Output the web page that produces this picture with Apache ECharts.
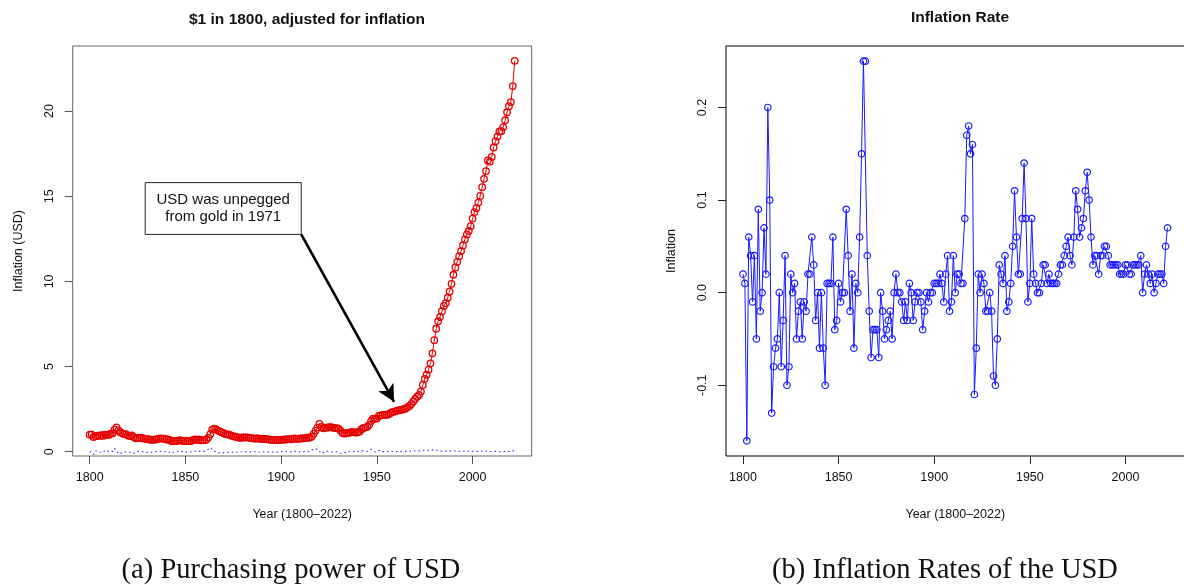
<!DOCTYPE html>
<html>
<head>
<meta charset="utf-8">
<title>USD inflation</title>
<script src="https://cdn.jsdelivr.net/npm/echarts@6/dist/echarts.min.js"></script>
<style>
  html, body { margin: 0; padding: 0; background: #fff; }
  #chart { width: 1184px; height: 585px; }
</style>
</head>
<body>
<div id="chart"></div>
<script>
// years on the x axis
const years = [];
for (let y = 1800; y <= 2022; y++) years.push(y);

// yearly inflation rate
const inflationRate = [
  0.02, 0.01, -0.16, 0.06, 0.04, -0.01, 0.04, -0.05, 0.09, -0.02,
  0.00, 0.07, 0.02, 0.20, 0.10, -0.13, -0.08, -0.06, -0.05, 0.00,
  -0.08, -0.03, 0.04, -0.10, -0.08, 0.02, 0.00, 0.01, -0.05, -0.02,
  -0.01, -0.05, -0.01, -0.02, 0.02, 0.02, 0.06, 0.03, -0.03, 0.00,
  -0.06, 0.00, -0.06, -0.10, 0.01, 0.01, 0.01, 0.06, -0.04, -0.03,
  0.01, -0.01, 0.00, 0.00, 0.09, 0.04, -0.02, 0.02, -0.06, 0.01,
  0.00, 0.06, 0.15, 0.25, 0.25, 0.04, -0.02, -0.07, -0.04, -0.04,
  -0.04, -0.07, 0.00, -0.02, -0.05, -0.04, -0.03, -0.02, -0.05, 0.00,
  0.02, 0.00, 0.00, -0.01, -0.03, -0.01, -0.03, 0.01, 0.00, -0.03,
  -0.01, 0.00, 0.00, -0.01, -0.04, -0.02, 0.00, -0.01, 0.00, 0.00,
  0.01, 0.01, 0.01, 0.02, 0.01, -0.01, 0.02, 0.04, -0.02, -0.01,
  0.04, 0.00, 0.02, 0.02, 0.01, 0.01, 0.08, 0.17, 0.18, 0.15,
  0.16, -0.11, -0.06, 0.02, 0.00, 0.02, 0.01, -0.02, -0.02, 0.00,
  -0.02, -0.09, -0.10, -0.05, 0.03, 0.02, 0.01, 0.04, -0.02, -0.01,
  0.01, 0.05, 0.11, 0.06, 0.02, 0.02, 0.08, 0.14, 0.08, -0.01,
  0.01, 0.08, 0.02, 0.01, 0.00, 0.00, 0.01, 0.03, 0.03, 0.01,
  0.02, 0.01, 0.01, 0.01, 0.01, 0.02, 0.03, 0.03, 0.04, 0.05,
  0.06, 0.04, 0.03, 0.06, 0.11, 0.09, 0.06, 0.07, 0.08, 0.11,
  0.13, 0.10, 0.06, 0.03, 0.04, 0.04, 0.02, 0.04, 0.04, 0.05,
  0.05, 0.04, 0.03, 0.03, 0.03, 0.03, 0.03, 0.02, 0.02, 0.02,
  0.03, 0.03, 0.02, 0.02, 0.03, 0.03, 0.03, 0.03, 0.04, 0.00,
  0.02, 0.03, 0.02, 0.01, 0.02, 0.00, 0.01, 0.02, 0.02, 0.02,
  0.01, 0.05, 0.07
];

// value of $1 from 1800
const usdValue = [
  1.00, 1.01, 0.86, 0.91, 0.95, 0.94, 0.98, 0.93, 1.01, 0.99,
  0.99, 1.06, 1.08, 1.30, 1.43, 1.25, 1.15, 1.08, 1.03, 1.03,
  0.95, 0.92, 0.96, 0.86, 0.79, 0.81, 0.81, 0.82, 0.78, 0.76,
  0.75, 0.72, 0.71, 0.70, 0.71, 0.73, 0.77, 0.79, 0.77, 0.77,
  0.72, 0.72, 0.68, 0.62, 0.63, 0.63, 0.64, 0.68, 0.65, 0.63,
  0.64, 0.63, 0.63, 0.63, 0.69, 0.72, 0.70, 0.72, 0.67, 0.68,
  0.68, 0.72, 0.83, 1.04, 1.30, 1.36, 1.33, 1.24, 1.19, 1.14,
  1.09, 1.02, 1.02, 1.00, 0.95, 0.91, 0.88, 0.86, 0.82, 0.82,
  0.84, 0.84, 0.84, 0.83, 0.80, 0.80, 0.77, 0.78, 0.78, 0.76,
  0.75, 0.75, 0.75, 0.74, 0.71, 0.70, 0.70, 0.69, 0.69, 0.69,
  0.70, 0.71, 0.72, 0.73, 0.74, 0.73, 0.75, 0.78, 0.76, 0.75,
  0.78, 0.78, 0.80, 0.81, 0.82, 0.83, 0.89, 1.05, 1.24, 1.42,
  1.64, 1.46, 1.38, 1.41, 1.41, 1.44, 1.45, 1.42, 1.39, 1.39,
  1.36, 1.24, 1.11, 1.06, 1.09, 1.11, 1.13, 1.17, 1.14, 1.13,
  1.14, 1.19, 1.32, 1.40, 1.43, 1.46, 1.58, 1.81, 1.95, 1.93,
  1.95, 2.10, 2.14, 2.16, 2.17, 2.16, 2.19, 2.26, 2.33, 2.35,
  2.39, 2.42, 2.44, 2.47, 2.50, 2.54, 2.61, 2.69, 2.80, 2.95,
  3.10, 3.23, 3.33, 3.53, 3.92, 4.28, 4.52, 4.82, 5.19, 5.78,
  6.55, 7.22, 7.66, 7.91, 8.25, 8.56, 8.72, 9.04, 9.41, 9.86,
  10.39, 10.82, 11.15, 11.48, 11.78, 12.11, 12.47, 12.76, 12.96, 13.24,
  13.69, 14.07, 14.30, 14.63, 15.02, 15.53, 16.02, 16.48, 17.10, 17.03,
  17.31, 17.86, 18.23, 18.50, 18.80, 18.82, 19.06, 19.46, 19.93, 20.29,
  20.53, 21.47, 22.95
];

// tick labels
const yearTicks = [1800, 1850, 1900, 1950, 2000];
const usdTicks = [0, 5, 10, 15, 20];
const rateTicks = [-0.1, 0.0, 0.1, 0.2];

// annotation (data coordinates of the note box and arrow)
const noteText = 'USD was unpegged\nfrom gold in 1971';
const noteBox = [[1829, 15.8], [1910.5, 12.76]];
const noteArrow = [[1910.5, 12.76], [1959, 2.93]];

const font = 'Liberation Sans, Arial, Helvetica, sans-serif';
const serif = 'Liberation Serif, Times New Roman, serif';

const usdPairs = years.map((y, i) => [y, usdValue[i]]);
const ratePairs = years.map((y, i) => [y, inflationRate[i]]);

function xAxisFor(idx, color) {
    return {
        type: 'value',
        gridIndex: idx,
        min: 1791.12,
        max: 2030.88,
        name: 'Year (1800\u20132022)',
        nameLocation: 'middle',
        nameGap: 52,
        nameTextStyle: { color: '#111', fontSize: 12.5, fontFamily: font },
        axisLine: { show: false, onZero: false },
        axisTick: { show: true, customValues: yearTicks, length: 8, lineStyle: { color: color } },
        axisLabel: { customValues: yearTicks, margin: 15, color: '#111', fontSize: 12.5, fontFamily: font,
                     formatter: v => String(v) },
        splitLine: { show: false }
    }
}

const chart = echarts.init(document.getElementById('chart'), null, { renderer: 'canvas' });

const option = {
    animation: false,
    backgroundColor: '#fff',
    title: [
        { text: '$1 in 1800, adjusted for inflation', left: 302, top: 7, textAlign: 'center',
          textStyle: { fontSize: 15.5, fontWeight: 'bold', color: '#111', fontFamily: font } },
        { text: 'Inflation Rate', left: 955, top: 5, textAlign: 'center',
          textStyle: { fontSize: 15.5, fontWeight: 'bold', color: '#111', fontFamily: font } },
        { text: '(a) Purchasing power of USD', left: 286, top: 551, textAlign: 'center',
          textStyle: { fontSize: 28.5, fontWeight: 'normal', color: '#111', fontFamily: serif } },
        { text: '(b) Inflation Rates of the USD', left: 940, top: 551, textAlign: 'center',
          textStyle: { fontSize: 28.5, fontWeight: 'normal', color: '#111', fontFamily: serif } }
    ],
    grid: [
        { left: 72.7, top: 46, width: 459, height: 410, show: true, borderColor: '#666', borderWidth: 1,
          backgroundColor: 'transparent', outerBoundsMode: 'none' },
        { left: 726, top: 46, width: 458.5, height: 410, show: true, borderColor: '#000', borderWidth: 1,
          backgroundColor: 'transparent', outerBoundsMode: 'none' }
    ],
    xAxis: [xAxisFor(0, '#555'), xAxisFor(1, '#222')],
    yAxis: [
        {
            type: 'value', gridIndex: 0, min: -0.25, max: 23.82,
            name: 'Inflation (USD)', nameLocation: 'middle', nameGap: 48,
            nameTextStyle: { color: '#111', fontSize: 12.5, fontFamily: font },
            axisLine: { show: false, onZero: false },
            axisTick: { show: true, customValues: usdTicks, length: 8, lineStyle: { color: '#555' } },
            axisLabel: { customValues: usdTicks, rotate: 90, margin: 17, color: '#111', fontSize: 12.5, fontFamily: font },
            splitLine: { show: false }
        },
        {
            type: 'value', gridIndex: 1, min: -0.1764, max: 0.2664,
            name: 'Inflation', nameLocation: 'middle', nameGap: 48,
            nameTextStyle: { color: '#111', fontSize: 12.5, fontFamily: font },
            axisLine: { show: false, onZero: false },
            axisTick: { show: true, customValues: rateTicks, length: 8, lineStyle: { color: '#222' } },
            axisLabel: { customValues: rateTicks, rotate: 90, margin: 17, color: '#111', fontSize: 12.5, fontFamily: font,
                         formatter: v => v.toFixed(1) },
            splitLine: { show: false }
        }
    ],
    series: [
        {
            name: 'inflation dotted',
            type: 'line',
            xAxisIndex: 0, yAxisIndex: 0,
            data: ratePairs,
            showSymbol: false,
            silent: true,
            lineStyle: { color: '#3b3bff', width: 1.2, type: [1.5, 3] },
            z: 1
        },
        {
            name: 'usd',
            type: 'line',
            xAxisIndex: 0, yAxisIndex: 0,
            data: usdPairs,
            symbol: 'circle',
            symbolSize: 6.5,
            silent: true,
            lineStyle: { color: '#e60000', width: 1 },
            itemStyle: { color: 'rgba(255,255,255,0)', borderColor: '#e60000', borderWidth: 1.3 },
            z: 2,
            markArea: {
                silent: true,
                itemStyle: { color: '#fff', borderColor: '#222', borderWidth: 1 },
                label: { show: true, position: 'inside', formatter: noteText, color: '#111',
                         fontSize: 15, lineHeight: 17, fontFamily: font },
                data: [[{ coord: noteBox[0] }, { coord: noteBox[1] }]]
            },
            markLine: {
                silent: true,
                symbol: ['none', 'arrow'],
                symbolSize: [13, 17],
                label: { show: false },
                lineStyle: { color: '#000', width: 2.6, type: 'solid' },
                data: [[{ coord: noteArrow[0] }, { coord: noteArrow[1] }]]
            }
        },
        {
            name: 'rate',
            type: 'line',
            xAxisIndex: 1, yAxisIndex: 1,
            data: ratePairs,
            symbol: 'circle',
            symbolSize: 6.5,
            silent: true,
            lineStyle: { color: '#1a1aff', width: 1 },
            itemStyle: { color: 'rgba(255,255,255,0)', borderColor: '#1a1aff', borderWidth: 1.2 }
        }
    ]
};

chart.setOption(option);
</script>
</body>
</html>
